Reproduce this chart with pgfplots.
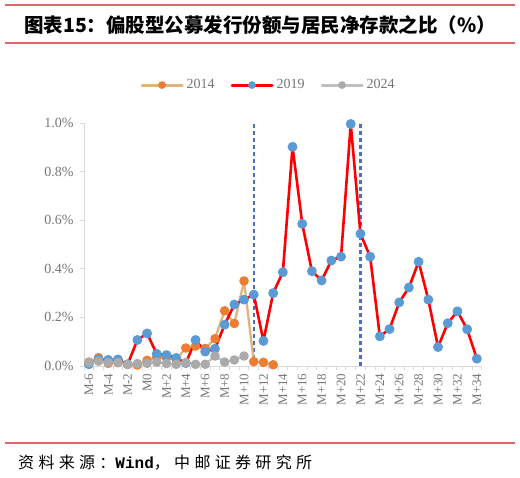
\documentclass[border=0pt]{standalone}
\usepackage{pgfplots}
\pgfplotsset{compat=1.18}
\usepackage{fontspec}
\setmainfont{Liberation Serif}
\newfontfamily\cjk{Noto Sans CJK SC}
\newfontfamily\cjkspaced[LetterSpace=27]{Noto Sans CJK SC}
\newfontfamily\monofont{Liberation Mono}

\definecolor{rulered}{RGB}{222,105,105}
\definecolor{axisgray}{RGB}{217,217,217}
\definecolor{labelgray}{RGB}{118,118,118}
\definecolor{tanline}{RGB}{223,180,125}
\definecolor{orangemark}{RGB}{237,125,49}
\definecolor{redline}{RGB}{255,0,0}
\definecolor{bluemark}{RGB}{91,155,213}
\definecolor{grayline}{RGB}{191,191,191}
\definecolor{graymark}{RGB}{170,170,170}
\definecolor{dashblue}{RGB}{68,114,196}

% ratio of equity fund issuance to household net deposits, %
\pgfplotstableread{
m    v
-6   0.016
-5   0.034
-4   0.011
-3   0.014
-2   0.007
-1   0.004
0    0.023
1    0.037
2    0.034
3    0.027
4    0.074
5    0.082
6    0.072
7    0.112
8    0.227
9    0.175
10   0.350
11   0.018
12   0.015
13   0.005
}\yearA

\pgfplotstableread{
m    v
-6   0.007
-5   0.027
-4   0.025
-3   0.027
-2   0.007
-1   0.107
0    0.134
1    0.050
2    0.045
3    0.033
4    0.012
5    0.107
6    0.059
7    0.071
8    0.170
9    0.253
10   0.273
11   0.294
12   0.103
13   0.300
14   0.386
15   0.902
16   0.585
17   0.390
18   0.352
19   0.434
20   0.450
21   0.996
22   0.544
23   0.450
24   0.122
25   0.152
26   0.262
27   0.323
28   0.429
29   0.273
30   0.078
31   0.176
32   0.225
33   0.151
34   0.030
}\yearB

\pgfplotstableread{
m    v
-6   0.014
-5   0.020
-4   0.014
-3   0.014
-2   0.007
-1   0.010
0    0.011
1    0.016
2    0.010
3    0.007
4    0.014
5    0.007
6    0.007
7    0.041
8    0.016
9    0.025
10   0.041
}\yearC

\begin{document}
\begin{tikzpicture}
\useasboundingbox (0pt,0pt) rectangle (520pt,478pt);
\fill[white] (0pt,0pt) rectangle (520pt,478pt);

% header
\draw[rulered, line width=1.3pt] (5pt,473pt) -- (515pt,473pt);
\draw[rulered, line width=1.3pt] (5pt,435pt) -- (515pt,435pt);
\node[anchor=west, inner sep=0pt, font=\cjk\bfseries\fontsize{19.5}{19.5}\selectfont] at (24pt,453pt) {图表15：偏股型公募发行份额与居民净存款之比（\%）};

% footer
\draw[rulered, line width=1.3pt] (5pt,35pt) -- (515pt,35pt);
\node[anchor=west, inner sep=0pt, font=\cjkspaced\fontsize{16}{16}\selectfont] at (18pt,15pt) {资料来源：{\monofont\bfseries Wind}，中邮证券研究所};

\begin{axis}[
  at={(84pt,112pt)}, anchor=south west,
  scale only axis, width=397.7pt, height=243pt,
  xmin=-6.5, xmax=34.5, ymin=0, ymax=1,
  clip=false,
  axis x line*=bottom, axis y line*=left,
  axis line style={draw=axisgray, line width=0.9pt},
  tick align=outside,
  major tick length=4pt, minor tick length=4pt,
  xtick={-6,-4,...,34},
  xticklabels={M-6,M-4,M-2,M0,M+2,M+4,M+6,M+8,M+10,M+12,M+14,M+16,M+18,M+20,M+22,M+24,M+26,M+28,M+30,M+32,M+34},
  minor xtick={-6.5,-5.5,...,34.5},
  xtick style={draw=none},
  minor x tick style={draw=axisgray, line width=0.9pt},
  ytick={0,0.2,0.4,0.6,0.8,1.0},
  yticklabels={0.0\%,0.2\%,0.4\%,0.6\%,0.8\%,1.0\%},
  ytick style={draw=axisgray, line width=0.9pt},
  x tick label style={rotate=90, anchor=east, text=labelgray, font=\fontsize{13}{13}\selectfont},
  y tick label style={text=labelgray, xshift=-3pt, font=\fontsize{14}{14}\selectfont},
  legend style={at={(0.464,1.156)}, anchor=center, draw=none, fill=none,
    legend columns=-1, text=labelgray, font=\fontsize{14}{14}\selectfont,
    /tikz/every even column/.append style={column sep=14pt},
    /tikz/every odd column/.append style={column sep=1pt}},
  legend image code/.code={
    \pgfsetlinewidth{3pt}
    \draw[#1, mark=none, line width=3pt] (0pt,0pt) -- (40pt,0pt);
    \draw[#1, line width=0.4pt] plot coordinates {(20pt,0pt)};
  },
  every axis plot/.append style={line join=round, line cap=round},
]
% window markers
\addplot[forget plot, dashblue, line width=2.4pt, line cap=butt, dash pattern=on 3.5pt off 3.5pt] coordinates {(11,0) (11,1)};
\addplot[forget plot, dashblue, line width=2.4pt, line cap=butt, dash pattern=on 3.5pt off 3.5pt] coordinates {(22,0) (22,1)};

\addplot[tanline, line width=2.3pt, mark=*, mark size=3.6pt, mark options={solid, draw=orangemark, fill=orangemark}] table[x=m, y=v] {\yearA};
\addlegendentry{2014}
\addplot[redline, line width=2.6pt, mark=*, mark size=3.6pt, mark options={solid, draw=bluemark, fill=bluemark}] table[x=m, y=v] {\yearB};
\addlegendentry{2019}
\addplot[grayline, line width=2.3pt, mark=*, mark size=3.6pt, mark options={solid, draw=graymark, fill=graymark}] table[x=m, y=v] {\yearC};
\addlegendentry{2024}
\end{axis}
\end{tikzpicture}
\end{document}
